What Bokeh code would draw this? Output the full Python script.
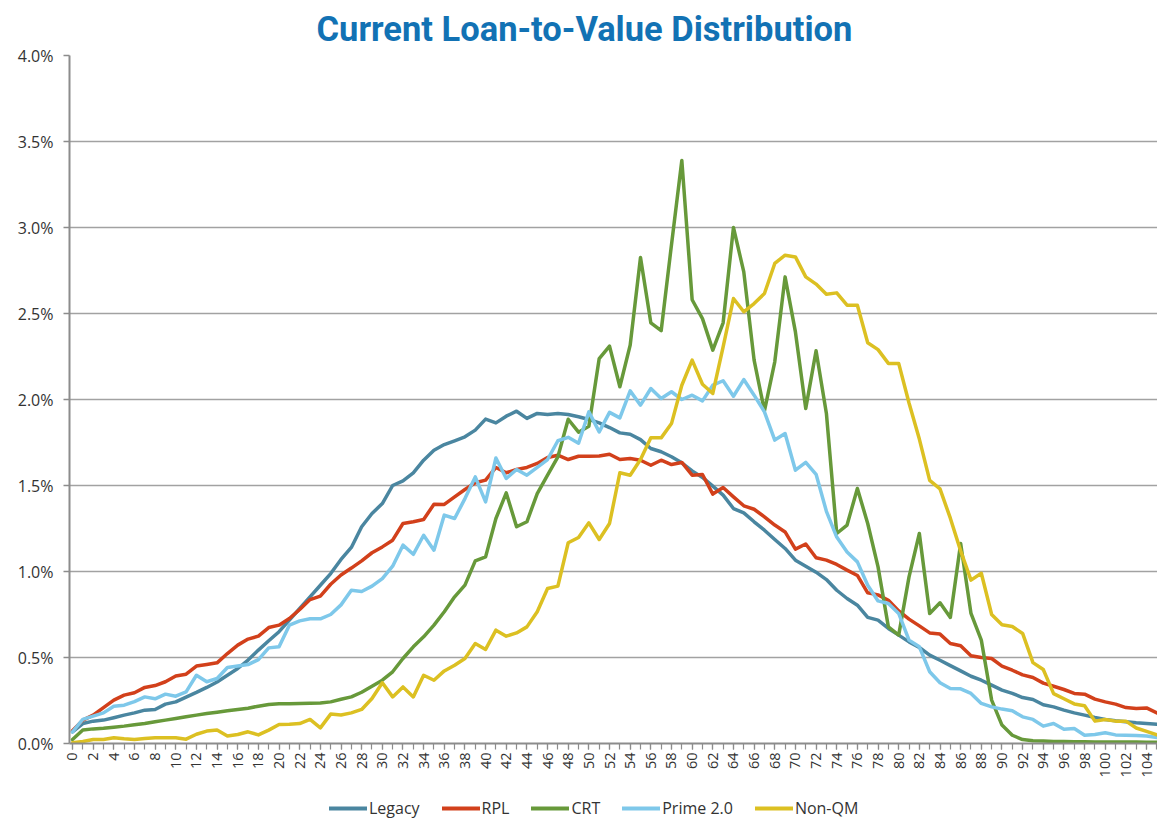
import math
from bokeh.plotting import figure
from bokeh.layouts import column
from bokeh.models import (Range1d, SingleIntervalTicker, FixedTicker, PrintfTickFormatter,
                          Legend, LegendItem, ColumnDataSource)
from bokeh.embed import file_html
from bokeh.resources import INLINE

# ---------------- data (values in %) ----------------
ltv = list(range(0, 106))

legacy = [0.068, 0.116, 0.13, 0.136, 0.15, 0.165, 0.178, 0.194, 0.198, 0.229,
          0.242, 0.27, 0.297, 0.326, 0.358, 0.397, 0.436, 0.485, 0.543, 0.597,
          0.65, 0.717, 0.785, 0.853, 0.92, 0.988, 1.07, 1.14, 1.26, 1.337,
          1.395, 1.50, 1.527, 1.573, 1.647, 1.705, 1.738, 1.76, 1.783, 1.822,
          1.886, 1.864, 1.903, 1.932, 1.89, 1.919, 1.913, 1.919, 1.913, 1.9,
          1.884, 1.864, 1.837, 1.806, 1.798, 1.767, 1.715, 1.696, 1.667, 1.632,
          1.585, 1.547, 1.496, 1.444, 1.366, 1.341, 1.289, 1.24, 1.186, 1.134,
          1.066, 1.031, 0.996, 0.953, 0.891, 0.843, 0.804, 0.733, 0.717, 0.669,
          0.63, 0.591, 0.558, 0.514, 0.484, 0.453, 0.422, 0.391, 0.368, 0.339,
          0.31, 0.291, 0.267, 0.256, 0.225, 0.213, 0.194, 0.178, 0.165, 0.151,
          0.14, 0.132, 0.126, 0.12, 0.116, 0.112]

rpl = [0.074, 0.136, 0.165, 0.209, 0.252, 0.281, 0.295, 0.326, 0.337, 0.359,
       0.393, 0.403, 0.45, 0.459, 0.469, 0.523, 0.572, 0.607, 0.624, 0.674,
       0.688, 0.727, 0.779, 0.837, 0.857, 0.926, 0.98, 1.02, 1.062, 1.109,
       1.143, 1.182, 1.279, 1.289, 1.302, 1.391, 1.39, 1.434, 1.477, 1.516,
       1.531, 1.605, 1.574, 1.593, 1.605, 1.628, 1.663, 1.676, 1.651, 1.67,
       1.67, 1.672, 1.682, 1.651, 1.657, 1.647, 1.618, 1.647, 1.622, 1.634,
       1.56, 1.564, 1.45, 1.488, 1.434, 1.382, 1.362, 1.318, 1.27, 1.23,
       1.13, 1.16, 1.08, 1.066, 1.041, 1.008, 0.977, 0.876, 0.864, 0.833,
       0.771, 0.723, 0.684, 0.643, 0.636, 0.581, 0.568, 0.51, 0.5, 0.494,
       0.45, 0.426, 0.399, 0.384, 0.351, 0.333, 0.314, 0.291, 0.287, 0.258,
       0.242, 0.229, 0.209, 0.203, 0.207, 0.178]

crt = [0.023, 0.078, 0.085, 0.089, 0.095, 0.101, 0.109, 0.116, 0.126, 0.136,
       0.145, 0.155, 0.165, 0.174, 0.182, 0.19, 0.198, 0.205, 0.217, 0.227,
       0.231, 0.231, 0.233, 0.234, 0.236, 0.242, 0.257, 0.271, 0.298, 0.333,
       0.368, 0.417, 0.494, 0.562, 0.62, 0.688, 0.766, 0.853, 0.921, 1.062,
       1.085, 1.308, 1.457, 1.26, 1.289, 1.453, 1.56, 1.667, 1.885, 1.81,
       1.845, 2.238, 2.31, 2.074, 2.316, 2.826, 2.446, 2.4, 2.9, 3.39,
       2.58, 2.47, 2.287, 2.446, 3.0, 2.742, 2.229, 1.934, 2.219, 2.713,
       2.393, 1.948, 2.283, 1.919, 1.221, 1.27, 1.483, 1.279, 1.027, 0.678,
       0.63, 0.969, 1.221, 0.756, 0.818, 0.733, 1.163, 0.756, 0.601, 0.252,
       0.107, 0.048, 0.023, 0.016, 0.014, 0.012, 0.011, 0.010, 0.010, 0.009,
       0.009, 0.008, 0.008, 0.008, 0.007, 0.007]

prime = [0.068, 0.14, 0.159, 0.178, 0.217, 0.223, 0.244, 0.271, 0.26, 0.287,
         0.275, 0.3, 0.397, 0.359, 0.378, 0.442, 0.45, 0.459, 0.488, 0.556,
         0.562, 0.688, 0.713, 0.725, 0.725, 0.75, 0.806, 0.891, 0.884, 0.915,
         0.959, 1.031, 1.153, 1.1, 1.211, 1.124, 1.328, 1.308, 1.424, 1.55,
         1.405, 1.66, 1.541, 1.593, 1.56, 1.605, 1.651, 1.76, 1.78, 1.746,
         1.928, 1.812, 1.925, 1.893, 2.05, 1.967, 2.064, 2.006, 2.045, 2.0,
         2.025, 1.992, 2.083, 2.109, 2.019, 2.116, 2.025, 1.928, 1.764, 1.802,
         1.589, 1.635, 1.565, 1.35, 1.2, 1.114, 1.056, 0.92, 0.829, 0.814,
         0.756, 0.601, 0.562, 0.417, 0.353, 0.32, 0.318, 0.291, 0.233, 0.213,
         0.2, 0.19, 0.155, 0.14, 0.101, 0.116, 0.083, 0.087, 0.048, 0.052,
         0.062, 0.05, 0.048, 0.047, 0.043, 0.035]

nonqm = [0.004, 0.012, 0.023, 0.023, 0.033, 0.027, 0.023, 0.029, 0.033, 0.033,
         0.033, 0.025, 0.054, 0.072, 0.078, 0.043, 0.052, 0.068, 0.05, 0.078,
         0.11, 0.112, 0.116, 0.14, 0.091, 0.171, 0.166, 0.178, 0.198, 0.262,
         0.353, 0.271, 0.329, 0.271, 0.397, 0.368, 0.422, 0.455, 0.494, 0.581,
         0.547, 0.659, 0.624, 0.643, 0.678, 0.766, 0.901, 0.915, 1.167, 1.198,
         1.283, 1.186, 1.279, 1.574, 1.56, 1.651, 1.777, 1.777, 1.86, 2.083,
         2.229, 2.089, 2.035, 2.306, 2.587, 2.51, 2.558, 2.616, 2.791, 2.839,
         2.829, 2.713, 2.671, 2.612, 2.62, 2.548, 2.548, 2.33, 2.29, 2.21,
         2.21, 1.98, 1.77, 1.53, 1.48, 1.31, 1.12, 0.95, 0.99, 0.75,
         0.69, 0.68, 0.64, 0.47, 0.43, 0.29, 0.26, 0.23, 0.22, 0.13,
         0.14, 0.13, 0.13, 0.09, 0.07, 0.05]

series_names = ["Legacy", "RPL", "CRT", "Prime 2.0", "Non-QM"]
series_values = [legacy, rpl, crt, prime, nonqm]
series_colors = ["#4a86a0", "#d2401b", "#67993a", "#7ec8ea", "#dcc022"]

y_ticks = [0.0, 0.5, 1.0, 1.5, 2.0, 2.5, 3.0, 3.5, 4.0]

# ---------------- main figure ----------------
p = figure(width=1157, height=783, output_backend="svg", toolbar_location=None,
           x_range=Range1d(-0.29, 105.06), y_range=Range1d(0, 4.0),
           min_border_left=69, min_border_right=0, min_border_top=55,
           min_border_bottom=40)
p.outline_line_color = None
p.background_fill_color = "white"
p.border_fill_color = "white"

p.title.text = "Current Loan-to-Value Distribution"
p.title.align = "left"
p.title.offset = 247
p.title.text_font = "Roboto"
p.title.text_font_style = "bold"
p.title.text_font_size = "34.5px"
p.title.text_color = "#1272b4"
p.title.standoff = 13

# grid
p.xgrid.grid_line_color = None
p.ygrid.ticker = FixedTicker(ticks=y_ticks)
p.ygrid.grid_line_color = "#a2a2a2"
p.ygrid.grid_line_width = 1.5

# y axis
p.yaxis.ticker = FixedTicker(ticks=y_ticks)
p.yaxis.formatter = PrintfTickFormatter(format="%.1f%%")
p.yaxis.axis_line_color = "#8c8c8c"
p.yaxis.axis_line_width = 2
p.yaxis.major_tick_line_color = "#8c8c8c"
p.yaxis.major_tick_line_width = 1.5
p.yaxis.major_tick_in = 0
p.yaxis.major_tick_out = 6
p.yaxis.minor_tick_line_color = None
p.yaxis.major_label_text_font = "Open Sans"
p.yaxis.major_label_text_font_size = "16px"
p.yaxis.major_label_text_color = "#333333"
p.yaxis.major_label_standoff = 10

# x axis
p.xaxis.ticker = SingleIntervalTicker(interval=2, num_minor_ticks=2)
p.xaxis.axis_line_color = "#8c8c8c"
p.xaxis.axis_line_width = 2
p.xaxis.major_tick_line_color = "#8c8c8c"
p.xaxis.minor_tick_line_color = "#8c8c8c"
p.xaxis.major_tick_line_width = 1.2
p.xaxis.minor_tick_line_width = 1.2
p.xaxis.major_tick_in = 0
p.xaxis.major_tick_out = 6
p.xaxis.minor_tick_in = 0
p.xaxis.minor_tick_out = 6
p.xaxis.major_label_orientation = math.pi / 2
p.xaxis.major_label_text_font = "Open Sans"
p.xaxis.major_label_text_font_size = "14.5px"
p.xaxis.major_label_text_color = "#333333"
p.xaxis.major_label_standoff = 3

for name, vals, col in zip(series_names, series_values, series_colors):
    src = ColumnDataSource(dict(x=ltv, y=vals))
    p.line("x", "y", source=src, line_color=col, line_width=3.5,
           line_join="round", line_cap="round")

# ---------------- legend strip ----------------
lg = figure(width=1157, height=37, output_backend="svg", toolbar_location=None,
            x_range=Range1d(0, 1), y_range=Range1d(0, 1),
            min_border_left=0, min_border_right=0, min_border_top=0,
            min_border_bottom=0)
lg.axis.visible = False
lg.grid.visible = False
lg.outline_line_color = None
lg.border_fill_color = "white"

items = []
for name, col in zip(series_names, series_colors):
    # legend-only stand-in, placed outside the strip's visible range
    r = lg.line(x=[5, 6], y=[5, 5], line_color=col, line_width=4, line_cap="round")
    items.append(LegendItem(label=name, renderers=[r]))

legend = Legend(items=items, orientation="horizontal", location=(260, 1))
legend.glyph_width = 38
legend.glyph_height = 16
legend.label_standoff = 2
legend.spacing = 22
legend.label_text_font = "Open Sans"
legend.label_text_font_size = "16px"
legend.label_text_color = "#333333"
legend.border_line_color = None
legend.background_fill_alpha = 0
legend.padding = 0
legend.margin = 0
lg.add_layout(legend, "center")

layout = column(p, lg, spacing=0)
open("out.html", "w").write(file_html(layout, INLINE))
